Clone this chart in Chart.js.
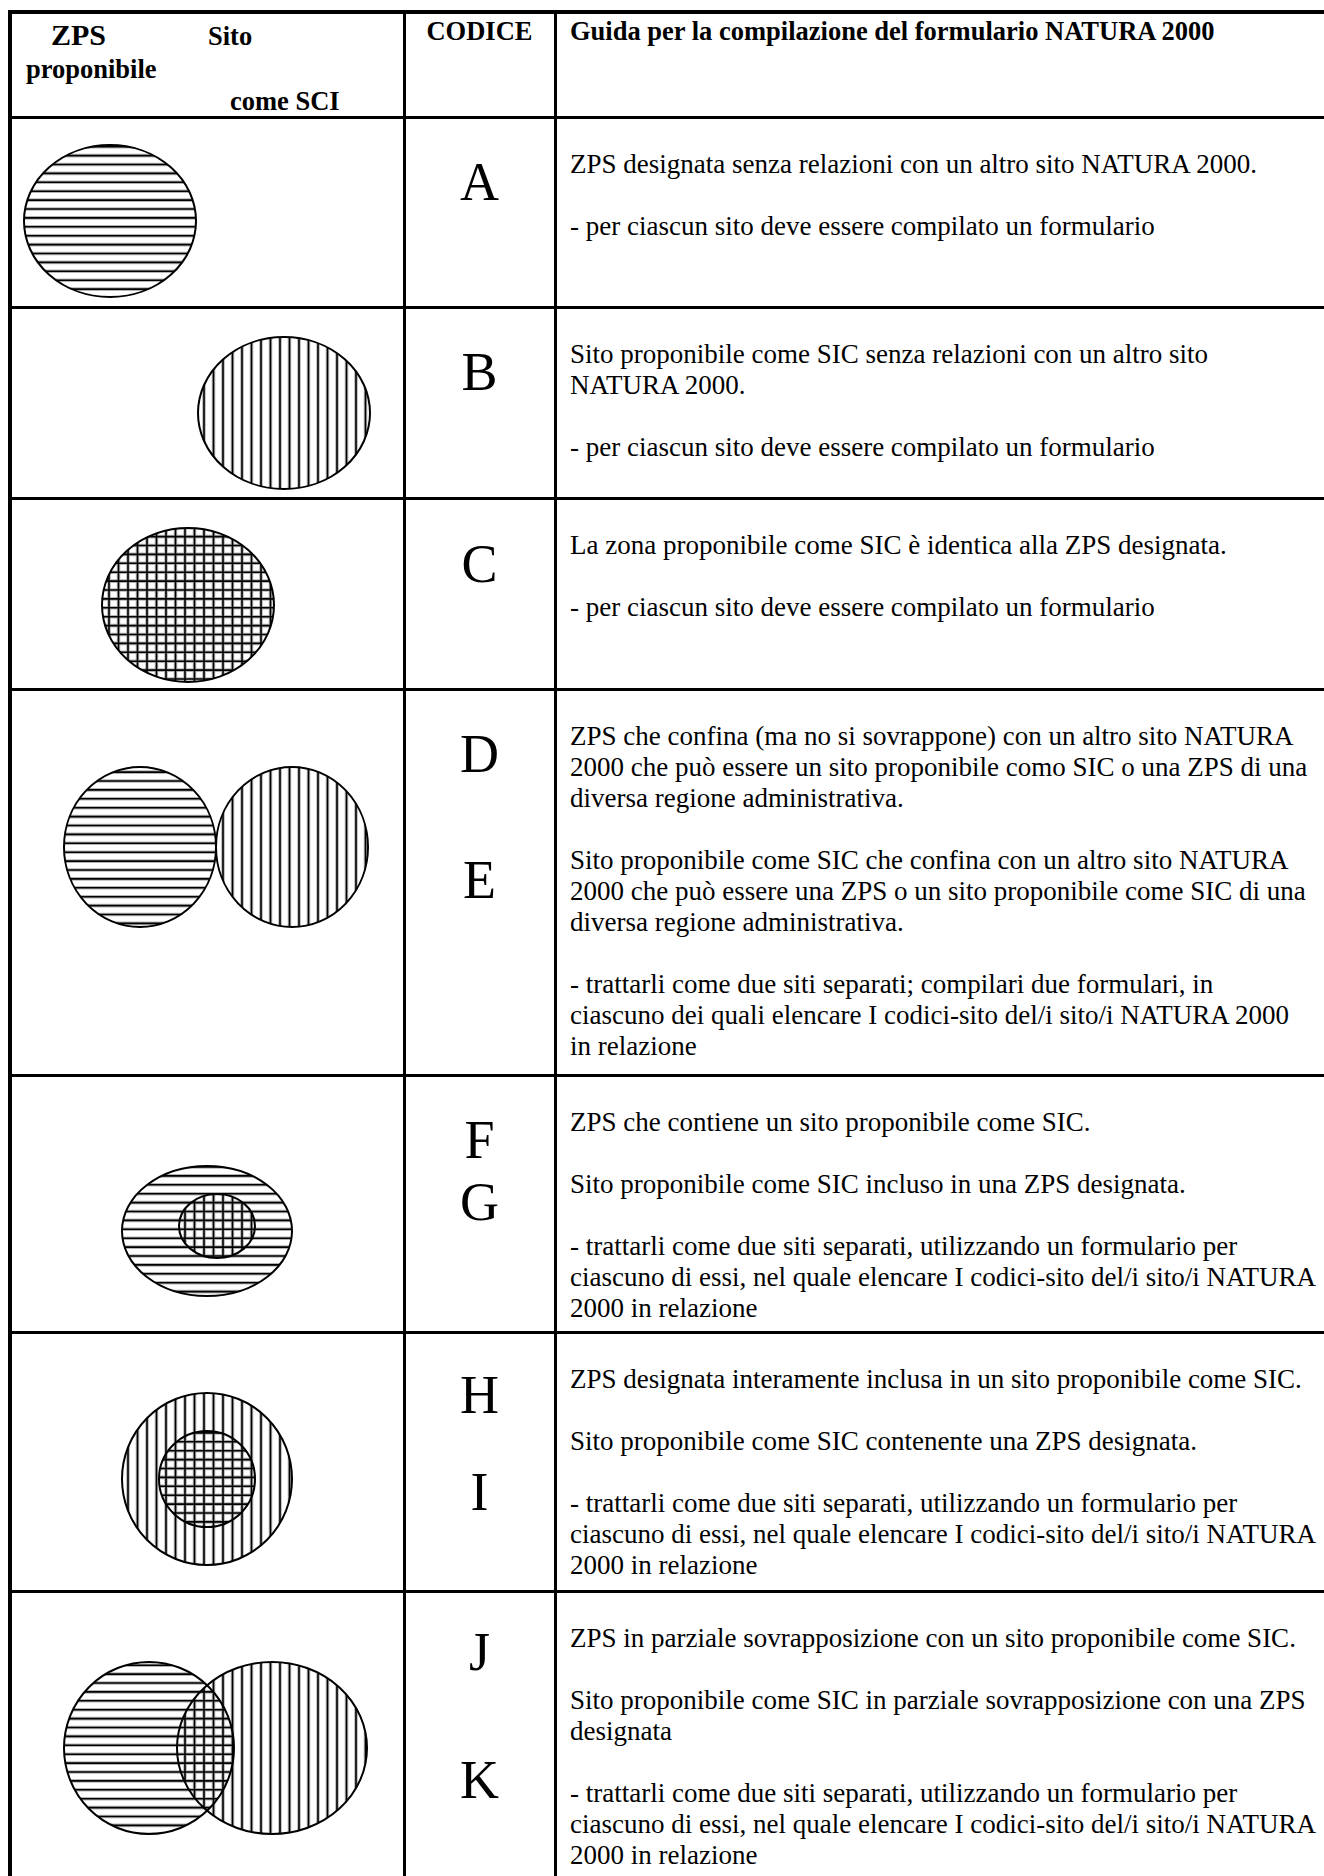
<!DOCTYPE html>
<html lang="it">

<head>
    <meta charset="UTF-8">
    <title>Guida per la compilazione del formulario NATURA 2000</title>
    <script src="https://cdn.jsdelivr.net/npm/chart.js"></script>
    <style>
        body {
            margin: 0;
            width: 1324px;
            height: 1876px;
            overflow: hidden;
            position: relative;
            background: #fff;
            color: #000;
            font-family: "Liberation Serif", "Times New Roman", serif;
        }

        .rule {
            position: absolute;
            background: #000;
            z-index: 2;
        }

        .txt {
            position: absolute;
            white-space: pre;
        }

        .hdr {
            font-weight: bold;
            font-size: 26.5px;
            line-height: 26.5px;
        }

        .guide {
            left: 570px;
            font-size: 27px;
            line-height: 31px;
        }

        .code {
            left: 404px;
            width: 151px;
            text-align: center;
            font-size: 54px;
            line-height: 54px;
        }

        .cell {
            position: absolute;
            left: 11px;
            width: 393px;
        }
    </style>
</head>

<body>
    <script>
        // codes and guide text, one entry per table row
        const codes = [['A'], ['B'], ['C'], ['D', 'E'], ['F', 'G'], ['H', 'I'], ['J', 'K']];
        const codeBaselines = [[83], [83], [84], [83, 209], [83, 145], [81, 178], [79, 207]];

        const guide = [
            ['ZPS designata senza relazioni con un altro sito NATURA 2000.', '',
                '- per ciascun sito deve essere compilato un formulario'],
            ['Sito proponibile come SIC senza relazioni con un altro sito', 'NATURA 2000.', '',
                '- per ciascun sito deve essere compilato un formulario'],
            ['La zona proponibile come SIC è identica alla ZPS designata.', '',
                '- per ciascun sito deve essere compilato un formulario'],
            ['ZPS che confina (ma no si sovrappone) con un altro sito NATURA',
                '2000 che può essere un sito proponibile como SIC o una ZPS di una',
                'diversa regione administrativa.', '',
                'Sito proponibile come SIC che confina con un altro sito NATURA',
                '2000 che può essere una ZPS o un sito proponibile come SIC di una',
                'diversa regione administrativa.', '',
                '- trattarli come due siti separati; compilari due formulari, in',
                'ciascuno dei quali elencare I codici-sito del/i sito/i NATURA 2000',
                'in relazione'],
            ['ZPS che contiene un sito proponibile come SIC.', '',
                'Sito proponibile come SIC incluso in una ZPS designata.', '',
                '- trattarli come due siti separati, utilizzando un formulario per',
                'ciascuno di essi, nel quale elencare I codici-sito del/i sito/i NATURA',
                '2000 in relazione'],
            ['ZPS designata interamente inclusa in un sito proponibile come SIC.', '',
                'Sito proponibile come SIC contenente una ZPS designata.', '',
                '- trattarli come due siti separati, utilizzando un formulario per',
                'ciascuno di essi, nel quale elencare I codici-sito del/i sito/i NATURA',
                '2000 in relazione'],
            ['ZPS in parziale sovrapposizione con un sito proponibile come SIC.', '',
                'Sito proponibile come SIC in parziale sovrapposizione con una ZPS',
                'designata', '',
                '- trattarli come due siti separati, utilizzando un formulario per',
                'ciascuno di essi, nel quale elencare I codici-sito del/i sito/i NATURA',
                '2000 in relazione']
        ];

        // site shapes per row (cell units): centre, radii, hatch (h = ZPS, v = SIC)
        const siteX = [[99], [273], [177], [129, 281], [196, 206], [196, 196], [138, 261]];
        const siteY = [[104], [106], [107], [158, 158], [156, 151], [147, 147], [157, 157]];
        const siteRX = [[86], [86], [86], [76, 76], [85, 38], [85, 48], [85, 95]];
        const siteRY = [[76], [76], [77], [80, 80], [65, 32], [86, 48], [86, 86]];
        const siteHatch = [['h'], ['v'], ['hv'], ['h', 'v'], ['h', 'v'], ['v', 'h'], ['h', 'v']];

        const rowEdges = [117, 307, 498, 689, 1075, 1332, 1591, 1884];
        const H_STEP = 8.9;
        const V_STEP = 9.5;

        function addRule(x, y, w, h) {
            const d = document.createElement('div');
            d.className = 'rule';
            Object.assign(d.style, { left: x + 'px', top: y + 'px', width: w + 'px', height: h + 'px' });
            document.body.appendChild(d);
        }

        function addText(cls, text, x, baseline, size) {
            const d = document.createElement('div');
            d.className = 'txt ' + cls;
            d.textContent = text;
            if (x !== null) d.style.left = x + 'px';
            d.style.top = (baseline - 0.8375 * size) + 'px';
            document.body.appendChild(d);
            return d;
        }

        // table rules
        addRule(8, 10, 1330, 4);
        addRule(8, 10, 4, 1880);
        rowEdges.slice(0, -1).forEach(y => addRule(8, y - 1.5, 1330, 3));
        addRule(403, 10, 3, 1880);
        addRule(554, 10, 3, 1880);

        // header
        const zps = addText('hdr', 'ZPS', 51, 45, 30);
        zps.style.fontSize = '30px';
        zps.style.lineHeight = '30px';
        addText('hdr', 'Sito', 208, 45, 26.5);
        addText('hdr', 'proponibile', 26, 78, 26.5);
        addText('hdr', 'come SCI', 230, 110, 26.5);
        const cod = addText('hdr code', 'CODICE', null, 40, 26.5);
        cod.style.fontSize = '26.5px';
        cod.style.lineHeight = '26.5px';
        addText('hdr', 'Guida per la compilazione del formulario NATURA 2000', 570, 40, 26.5);

        // hatched ellipses, placed through the chart scales
        const hatchPlugin = {
            id: 'hatchedSites',
            afterDatasetsDraw(chart) {
                const ctx = chart.ctx;
                const area = chart.chartArea;
                const sx = chart.scales.x;
                const sy = chart.scales.y;
                const shapes = [];
                chart.data.datasets.forEach((ds, i) => {
                    chart.getDatasetMeta(i).data.forEach((pt, j) => {
                        const d = ds.data[j];
                        shapes.push({
                            cx: pt.x,
                            cy: pt.y,
                            rx: Math.abs(sx.getPixelForValue(d.x + d.rx) - pt.x),
                            ry: Math.abs(sy.getPixelForValue(d.y + d.ry) - pt.y),
                            hatch: ds.hatch
                        });
                    });
                });
                const path = s => {
                    ctx.beginPath();
                    ctx.ellipse(s.cx, s.cy, s.rx, s.ry, 0, 0, Math.PI * 2);
                };
                const hatchPath = s => {
                    ctx.beginPath();
                    if (s.hatch.includes('h')) {
                        for (let y = area.top + 3; y < area.bottom; y += H_STEP) {
                            ctx.moveTo(area.left, y);
                            ctx.lineTo(area.right, y);
                        }
                    }
                    if (s.hatch.includes('v')) {
                        for (let x = area.left + 3; x < area.right; x += V_STEP) {
                            ctx.moveTo(x, area.top);
                            ctx.lineTo(x, area.bottom);
                        }
                    }
                };
                ctx.save();
                ctx.fillStyle = '#fff';
                shapes.forEach(s => { path(s); ctx.fill(); });
                // grey halo first, then the dark core, like the scanned hatching
                [['#b4b4b4', 3.6], ['#000', 1.6]].forEach(([col, w]) => {
                    ctx.strokeStyle = col;
                    ctx.lineWidth = w;
                    shapes.forEach(s => {
                        ctx.save();
                        path(s);
                        ctx.clip();
                        hatchPath(s);
                        ctx.stroke();
                        ctx.restore();
                    });
                });
                ctx.strokeStyle = '#000';
                ctx.lineWidth = 2;
                shapes.forEach(s => { path(s); ctx.stroke(); });
                ctx.restore();
            }
        };

        codes.forEach((rowCodes, r) => {
            const top = rowEdges[r];
            const h = rowEdges[r + 1] - top;

            rowCodes.forEach((c, k) => addText('code', c, null, top + codeBaselines[r][k], 54));

            const g = document.createElement('div');
            g.className = 'txt guide';
            g.textContent = guide[r].join('\n');
            g.style.top = (top + 57 - 24.6) + 'px';
            document.body.appendChild(g);

            const cell = document.createElement('div');
            cell.className = 'cell';
            cell.style.top = top + 'px';
            cell.style.height = h + 'px';
            const canvas = document.createElement('canvas');
            canvas.width = 393;
            canvas.height = h;
            cell.appendChild(canvas);
            document.body.appendChild(cell);

            new Chart(canvas, {
                type: 'scatter',
                data: {
                    datasets: siteX[r].map((x, k) => ({
                        label: siteHatch[r][k] === 'h' ? 'ZPS' : 'SIC',
                        data: [{ x, y: siteY[r][k], rx: siteRX[r][k], ry: siteRY[r][k] }],
                        hatch: siteHatch[r][k],
                        pointRadius: 0
                    }))
                },
                options: {
                    responsive: false,
                    animation: false,
                    events: [],
                    layout: { padding: 0 },
                    plugins: { legend: { display: false }, tooltip: { enabled: false } },
                    scales: {
                        x: { type: 'linear', display: false, min: 0, max: 393 },
                        y: { type: 'linear', display: false, min: 0, max: h, reverse: true }
                    }
                },
                plugins: [hatchPlugin]
            });
        });
    </script>
</body>

</html>
